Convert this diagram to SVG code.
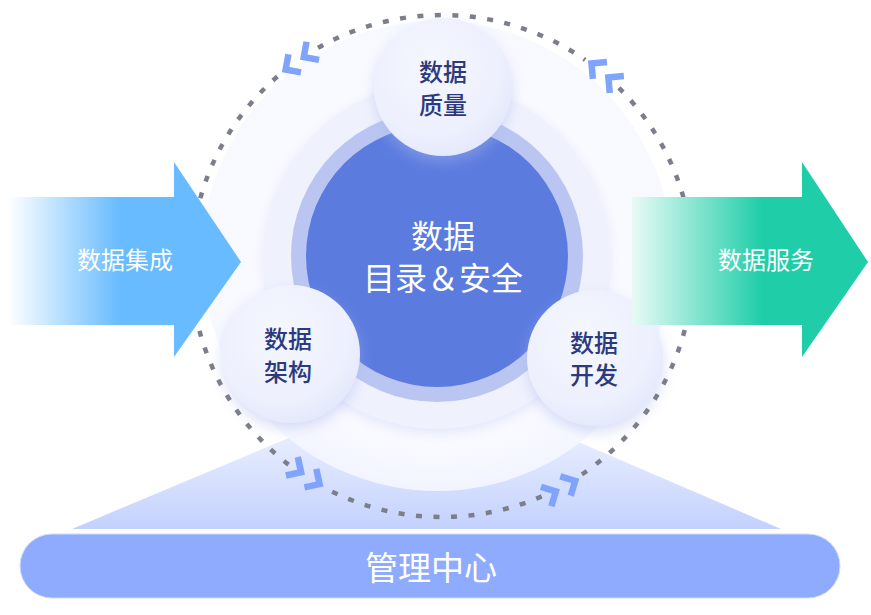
<svg xmlns="http://www.w3.org/2000/svg" width="871" height="615" viewBox="0 0 871 615">
<defs>
<style>
.t{font-family:"Noto Sans CJK SC","Noto Sans",sans-serif;text-anchor:middle}
.w{fill:#ffffff}
.n{fill:#2c3a7d;font-size:24px;font-weight:500}
.dots{fill:none;stroke:#7b7f8b;stroke-width:4.5;stroke-dasharray:6 11.5}
.chev{fill:none;stroke:#80a3fc;stroke-width:6.5;stroke-linejoin:miter;stroke-miterlimit:4}
.sc{fill:url(#scg);filter:url(#sh)}
</style>
<linearGradient id="trap" x1="0" y1="410" x2="0" y2="529" gradientUnits="userSpaceOnUse">
<stop offset="0" stop-color="#f3f6ff"/>
<stop offset="1" stop-color="#c3d1fd"/>
</linearGradient>
<radialGradient id="halo" cx="437" cy="256" r="236" gradientUnits="userSpaceOnUse">
<stop offset="0" stop-color="#fbfcff"/>
<stop offset="0.8" stop-color="#f9faff"/>
<stop offset="1" stop-color="#f6f8ff" stop-opacity="0.85"/>
</radialGradient>
<radialGradient id="scg" cx="0.42" cy="0.35" r="0.7">
<stop offset="0" stop-color="#f5f7fe"/>
<stop offset="0.7" stop-color="#edf0fd"/>
<stop offset="1" stop-color="#e2e7fb"/>
</radialGradient>
<linearGradient id="ga" x1="8" y1="0" x2="120" y2="0" gradientUnits="userSpaceOnUse">
<stop offset="0" stop-color="#ffffff"/>
<stop offset="1" stop-color="#67bbfe"/>
</linearGradient>
<linearGradient id="gb" x1="628" y1="0" x2="762" y2="0" gradientUnits="userSpaceOnUse">
<stop offset="0" stop-color="#effcf8"/>
<stop offset="1" stop-color="#1fcea9"/>
</linearGradient>
<filter id="sh" x="-30%" y="-30%" width="160%" height="160%">
<feDropShadow dx="0" dy="6" stdDeviation="7" flood-color="#aab6ec" flood-opacity="0.45"/>
</filter>
<filter id="sh2" x="-20%" y="-20%" width="140%" height="140%">
<feDropShadow dx="0" dy="4" stdDeviation="6" flood-color="#c4cdf3" flood-opacity="0.45"/>
</filter>
<path id="chp" d="M-18,-11 L-7,0 L-18,11 M4,-11 L15,0 L4,11"/>
</defs>

<g id="base">
<polygon points="72,529 781,529 504,410 355,410" fill="url(#trap)"/>
<circle cx="437" cy="256" r="235" fill="url(#halo)"/>
</g>

<g id="core">
<circle cx="437" cy="256" r="173" fill="#eff2fd" filter="url(#sh2)"/>
<circle cx="437" cy="256" r="146" fill="#bac6f1"/>
<circle cx="437" cy="256" r="131" fill="#5b7bdf"/>
<text class="t w" x="443" y="248" font-size="32">数据</text>
<text class="t w" x="443" y="290" font-size="32">目录＆安全</text>
</g>

<g id="quality">
<circle class="sc" cx="443" cy="87" r="69"/>
<text class="t n" x="443" y="81">数据</text>
<text class="t n" x="443" y="114">质量</text>
</g>

<g id="architecture">
<circle class="sc" cx="291" cy="354" r="69"/>
<text class="t n" x="288" y="348">数据</text>
<text class="t n" x="288" y="381">架构</text>
</g>

<g id="development">
<circle class="sc" cx="595" cy="358" r="68"/>
<text class="t n" x="594" y="352">数据</text>
<text class="t n" x="594" y="384">开发</text>
</g>

<g id="connectors">
<path class="dots" d="M318,47.8 A251,251 0 0 1 585.2,59.9"/>
<path class="dots" d="M618.9,87.9 A251,251 0 0 1 580.2,475.5"/>
<path class="dots" d="M541.7,496.4 A251,251 0 0 1 325.3,488.2"/>
<path class="dots" d="M288.5,464.6 A251,251 0 0 1 282,72.6"/>
<use href="#chp" class="chev" transform="translate(298,61) rotate(145.4)"/>
<use href="#chp" class="chev" transform="translate(603,73) rotate(219.8)"/>
<use href="#chp" class="chev" transform="translate(307,476) rotate(32.7)"/>
<use href="#chp" class="chev" transform="translate(562,488) rotate(-28.4)"/>
</g>

<g id="integration">
<path d="M8,197 H174 V162 L241,262 L174,357 V325 H8 Z" fill="url(#ga)"/>
<text class="t w" x="125" y="269" font-size="24">数据集成</text>
</g>

<g id="service">
<path d="M632,197 H802 V162 L868,262 L802,357 V325 H632 Z" fill="url(#gb)"/>
<text class="t w" x="766" y="269" font-size="24">数据服务</text>
</g>

<g id="management">
<rect x="20" y="534" width="820" height="64" rx="32" fill="#8eabfe" stroke="#cfdbff" stroke-width="1"/>
<text class="t w" x="431" y="580" font-size="33">管理中心</text>
</g>
</svg>
